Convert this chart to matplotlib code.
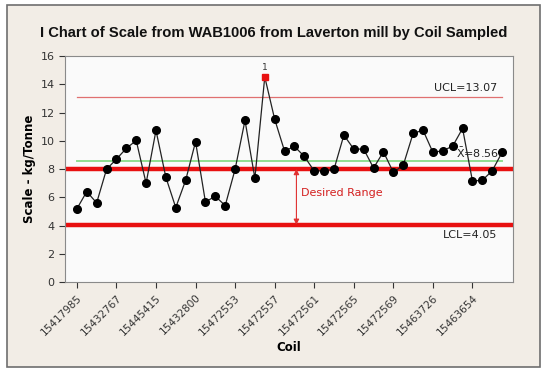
import matplotlib.pyplot as plt
from matplotlib.patches import Rectangle

# Scale values, one per coil (44 coils)
scale = [5.18, 6.40, 5.60, 7.98, 8.70, 9.46, 10.02, 6.99, 10.73, 7.41,
         5.27, 7.20, 9.93, 5.67, 6.07, 5.41, 7.98, 11.44, 7.34, 14.52,
         11.53, 9.27, 9.60, 8.89, 7.86, 7.88, 7.98, 10.40, 9.41, 9.41,
         8.07, 9.22, 7.76, 8.26, 10.52, 10.75, 9.18, 9.29, 9.62, 10.87,
         7.15, 7.20, 7.88, 9.18]
coil_labels = ['15417985', '15432767', '15445415', '15432800', '15472553',
               '15472557', '15472561', '15472565', '15472569', '15463726',
               '15463654']
ucl = 13.07
mean = 8.56
lcl = 4.05
desired_low = 4.05
desired_high = 8.0
out_point = 20

x = list(range(1, len(scale) + 1))
bg = '#f2ede6'

fig = plt.figure(figsize=(5.47, 3.71), dpi=100)
fig.patch.set_facecolor('white')
fig.patches.append(Rectangle((7 / 547, 1 - 367 / 371), 533 / 547, 362 / 371,
                             transform=fig.transFigure, facecolor=bg,
                             edgecolor='#6e6e6e', linewidth=1.2, zorder=-10))

ax = fig.add_axes([65 / 547, 1 - 282 / 371, 448 / 547, 226 / 371])
ax.set_facecolor('#fafafa')
for s in ax.spines.values():
    s.set_color('#8a8a8a')

# Control limits and centre line
ax.plot([1, len(scale)], [ucl, ucl], color='#e07070', lw=0.9)
ax.plot([1, len(scale)], [mean, mean], color='#90dd90', lw=1.4)
ax.axhline(desired_high, color='#e81010', lw=3.2)
ax.axhline(desired_low, color='#e81010', lw=3.2)

# Data (out-of-control point drawn as a red square)
normal = [i for i in range(len(scale)) if i != out_point - 1]
ax.plot(x, scale, color='#222222', lw=0.9, zorder=3)
ax.plot([x[i] for i in normal], [scale[i] for i in normal], 'o', ms=5.5,
        mfc='black', mec='black', zorder=4)
ax.plot(out_point, scale[out_point - 1], marker='s', ms=4.5, color='#e81010',
        linestyle='none', zorder=5)
ax.text(out_point, scale[out_point - 1] + 0.35, '1', ha='center', va='bottom',
        fontsize=6.5, color='#333333')

ax.text(len(scale) - 0.5, ucl + 0.3, 'UCL=13.07', ha='right', va='bottom',
        fontsize=8, color='#222222')
ax.text(len(scale) - 0.3, mean + 0.1, r'$\bar{\mathrm{X}}$=8.56', ha='right',
        va='bottom', fontsize=8, color='#222222')
ax.text(len(scale) - 0.5, lcl - 0.35, 'LCL=4.05', ha='right', va='top',
        fontsize=8, color='#222222')

# Desired range arrow
ax.annotate('', xy=(23.2, desired_low), xytext=(23.2, desired_high),
            arrowprops=dict(arrowstyle='<|-|>', color='#e03030', lw=0.8,
                            mutation_scale=8, shrinkA=0, shrinkB=0))
ax.text(23.7, 6.3, 'Desired Range', color='#d42020', fontsize=8,
        ha='left', va='center')

ax.set_xlim(-0.2, 45.1)
ax.set_ylim(0, 16)
ax.set_yticks(range(0, 17, 2))
ax.set_xticks(x[::4])
ax.set_xticklabels(coil_labels, rotation=45, ha='right', rotation_mode='anchor',
                   fontsize=7.5, color='#333333')
ax.tick_params(axis='y', labelsize=8, colors='#333333', length=4)
ax.tick_params(axis='x', length=4, colors='#333333')

ax.set_xlabel('Coil', fontsize=8.5, fontweight='bold', labelpad=3)
ax.set_ylabel('Scale - kg/Tonne', fontsize=8.5, fontweight='bold', labelpad=3)
fig.text(0.5, 1 - 33 / 371, 'I Chart of Scale from WAB1006 from Laverton mill by Coil Sampled',
         ha='center', va='center', fontsize=10.6, fontweight='bold',
         family='Liberation Sans', color='#111111')

fig.savefig('out.png', dpi=100, facecolor=fig.get_facecolor())
